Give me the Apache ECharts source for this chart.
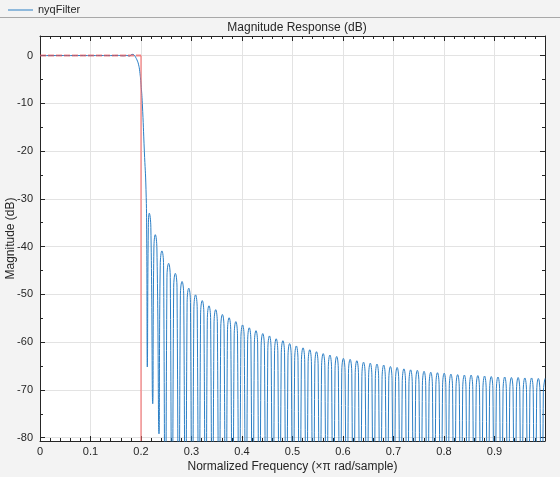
<!DOCTYPE html>
<html>
<head>
<meta charset="utf-8">
<script src="https://cdn.jsdelivr.net/npm/echarts@6/dist/echarts.min.js"></script>
<style>
html,body{margin:0;padding:0;background:#f3f3f3;}
#chart{width:560px;height:477px;}
</style>
</head>
<body>
<div id="chart"></div>
<script>
// ---- data ----
const seriesName = 'nyqFilter';
const xTickLabels = ['0','0.1','0.2','0.3','0.4','0.5','0.6','0.7','0.8','0.9'];
const yTickLabels = ['0','-10','-20','-30','-40','-50','-60','-70','-80'];

// passband + transition
const passFreq = [0, 0.02, 0.04, 0.06, 0.08, 0.10, 0.12, 0.14, 0.155, 0.165, 0.172, 0.177, 0.1825, 0.186, 0.189, 0.192, 0.195, 0.1975,
  0.2, 0.2026, 0.2066, 0.2099, 0.2113, 0.2125, 0.2145, 0.2164, 0.2195, 0.2232, 0.2255, 0.2283, 0.2315, 0.2356];
const passDb = [0, 0, 0.01, 0, 0.01, 0, 0.01, 0, 0.03, -0.05, 0.03, -0.1, 0.25, 0.15, -0.3, -0.9, -1.8, -3.3,
  -6.0, -10, -20, -28, -38, -65.2, -36, -33, -36, -72.9, -40.5, -37.5, -40.5, -79.2];

// stopband lobes
const lobePeakFreq = [
  0.2414, 0.2547, 0.2680, 0.2813, 0.2946, 0.3080, 0.3213, 0.3346, 0.3479, 0.3612,
  0.3745, 0.3878, 0.4011, 0.4144, 0.4277, 0.4411, 0.4544, 0.4677, 0.4810, 0.4943,
  0.5076, 0.5209, 0.5342, 0.5475, 0.5608, 0.5741, 0.5875, 0.6008, 0.6141, 0.6274,
  0.6407, 0.6540, 0.6673, 0.6806, 0.6939, 0.7072, 0.7206, 0.7339, 0.7472, 0.7605,
  0.7738, 0.7871, 0.8004, 0.8137, 0.8270, 0.8403, 0.8537, 0.8670, 0.8803, 0.8936,
  0.9069, 0.9202, 0.9335, 0.9468, 0.9601, 0.9734, 0.9868, 1.0000];
const lobePeakDb = [
  -40.9, -43.5, -45.6, -47.3, -48.7, -50.1, -51.3, -52.4, -53.2, -54.2,
  -54.9, -55.7, -56.4, -57.0, -57.6, -58.2, -58.7, -59.3, -59.7, -60.3,
  -60.8, -61.2, -61.6, -62.0, -62.4, -62.7, -63.0, -63.4, -63.6, -63.9,
  -64.2, -64.4, -64.6, -64.8, -65.1, -65.3, -65.6, -65.8, -65.9, -66.1,
  -66.3, -66.4, -66.5, -66.7, -66.8, -66.9, -66.9, -67.0, -67.1, -67.2,
  -67.3, -67.3, -67.4, -67.4, -67.5, -67.5, -67.6, -67.6];
const lobeLeftFreq = [
  0.2381, 0.2514, 0.2647, 0.2780, 0.2913, 0.3047, 0.3180, 0.3313, 0.3446, 0.3579,
  0.3712, 0.3845, 0.3978, 0.4111, 0.4244, 0.4378, 0.4511, 0.4644, 0.4777, 0.4910,
  0.5043, 0.5176, 0.5309, 0.5442, 0.5575, 0.5708, 0.5842, 0.5975, 0.6108, 0.6241,
  0.6374, 0.6507, 0.6640, 0.6773, 0.6906, 0.7039, 0.7173, 0.7306, 0.7439, 0.7572,
  0.7705, 0.7838, 0.7971, 0.8104, 0.8237, 0.8370, 0.8504, 0.8637, 0.8770, 0.8903,
  0.9036, 0.9169, 0.9302, 0.9435, 0.9568, 0.9701, 0.9835, 0.9967];
const lobeRightFreq = [
  0.2447, 0.2580, 0.2713, 0.2846, 0.2979, 0.3113, 0.3246, 0.3379, 0.3512, 0.3645,
  0.3778, 0.3911, 0.4044, 0.4177, 0.4310, 0.4444, 0.4577, 0.4710, 0.4843, 0.4976,
  0.5109, 0.5242, 0.5375, 0.5508, 0.5641, 0.5774, 0.5908, 0.6041, 0.6174, 0.6307,
  0.6440, 0.6573, 0.6706, 0.6839, 0.6972, 0.7105, 0.7239, 0.7372, 0.7505, 0.7638,
  0.7771, 0.7904, 0.8037, 0.8170, 0.8303, 0.8436, 0.8570, 0.8703, 0.8836, 0.8969,
  0.9102, 0.9235, 0.9368, 0.9501, 0.9634, 0.9767, 0.9901];
const lobeShoulderDb = [
  -43.9, -46.5, -48.6, -50.3, -51.7, -53.1, -54.3, -55.4, -56.2, -57.2,
  -57.9, -58.7, -59.4, -60.0, -60.6, -61.2, -61.7, -62.3, -62.7, -63.3,
  -63.8, -64.2, -64.6, -65.0, -65.4, -65.7, -66.0, -66.4, -66.6, -66.9,
  -67.2, -67.4, -67.6, -67.8, -68.1, -68.3, -68.6, -68.8, -68.9, -69.1,
  -69.3, -69.4, -69.5, -69.7, -69.8, -69.9, -69.9, -70.0, -70.1, -70.2,
  -70.3, -70.3, -70.4, -70.4, -70.5, -70.5, -70.6, -70.6];
const nullFreq = [
  0.2481, 0.2614, 0.2747, 0.2880, 0.3013, 0.3147, 0.3280, 0.3413, 0.3546, 0.3679,
  0.3812, 0.3945, 0.4078, 0.4211, 0.4344, 0.4478, 0.4611, 0.4744, 0.4877, 0.5010,
  0.5143, 0.5276, 0.5409, 0.5542, 0.5675, 0.5808, 0.5942, 0.6075, 0.6208, 0.6341,
  0.6474, 0.6607, 0.6740, 0.6873, 0.7006, 0.7139, 0.7273, 0.7406, 0.7539, 0.7672,
  0.7805, 0.7938, 0.8071, 0.8204, 0.8337, 0.8470, 0.8604, 0.8737, 0.8870, 0.9003,
  0.9136, 0.9269, 0.9402, 0.9535, 0.9668, 0.9801, 0.9935];
const nullDb = -140;

// mask (red): passband edge at 0 dB up to 0.2, then vertical at 0.2
const maskHorizFreq = [0, 0.2];
const maskHorizDb = [0, 0];
const maskVertFreq = [0.2, 0.2];
const maskVertDb = [0, -80.7];

// ---- build series data ----
const resp = [];
for (let i = 0; i < passFreq.length; i++) resp.push([passFreq[i], passDb[i]]);
for (let k = 0; k < lobePeakFreq.length; k++) {
  resp.push([lobeLeftFreq[k], lobeShoulderDb[k]]);
  resp.push([lobePeakFreq[k], lobePeakDb[k]]);
  if (k < lobeRightFreq.length) resp.push([lobeRightFreq[k], lobeShoulderDb[k]]);
  if (k < nullFreq.length) resp.push([nullFreq[k], nullDb]);
}
const maskH = maskHorizFreq.map((f, i) => [f, maskHorizDb[i]]);
const maskV = maskVertFreq.map((f, i) => [f, maskVertDb[i]]);

const FONT = 'Liberation Sans, Arial, sans-serif';
const TXT = '#262626';
const BLUE = '#2b7fc5';
const chart = echarts.init(document.getElementById('chart'), null, {renderer: 'canvas'});

function xAx(pos, showLabels) {
  return {
    type: 'value', position: pos, min: 0, max: 1, interval: 0.1,
    axisLine: {show: true, onZero: false, lineStyle: {color: TXT, width: 1}},
    axisTick: {show: true, inside: true, length: 5, lineStyle: {color: TXT}},
    minorTick: {show: true, splitNumber: 5, length: 3, lineStyle: {color: TXT}},
    axisLabel: {show: showLabels, color: TXT, fontFamily: FONT, fontSize: 11, margin: 5, showMaxLabel: false,
      formatter: v => { const i = Math.round(v * 10); return i < xTickLabels.length ? xTickLabels[i] : ''; }},
    splitLine: {show: showLabels, lineStyle: {color: '#e3e3e3', width: 1}},
    name: showLabels ? 'Normalized Frequency (×π rad/sample)' : '',
    nameLocation: 'middle', nameGap: 20, nameMoveOverlap: false,
    nameTextStyle: {color: TXT, fontFamily: FONT, fontSize: 12}
  };
}
function yAx(pos, showLabels) {
  return {
    type: 'value', position: pos, min: -80.7, max: 4.1, splitNumber: 8,
    axisLine: {show: true, onZero: false, lineStyle: {color: TXT, width: 1}},
    axisTick: {show: true, inside: true, length: 5, lineStyle: {color: TXT}},
    minorTick: {show: true, splitNumber: 2, length: 3, lineStyle: {color: TXT}},
    axisLabel: {show: showLabels, color: TXT, fontFamily: FONT, fontSize: 11, margin: 7,
      showMinLabel: false, showMaxLabel: false,
      formatter: v => { const i = Math.round(-v / 10); return (Math.abs(v + i * 10) < 1e-6 && i >= 0 && i < yTickLabels.length) ? yTickLabels[i] : ''; }},
    splitLine: {show: showLabels, lineStyle: {color: '#e3e3e3', width: 1}},
    name: showLabels ? 'Magnitude (dB)' : '',
    nameLocation: 'middle', nameGap: 23, nameMoveOverlap: false,
    nameTextStyle: {color: TXT, fontFamily: FONT, fontSize: 12}
  };
}

chart.setOption({
  animation: false,
  backgroundColor: '#f3f3f3',
  title: {text: 'Magnitude Response (dB)', left: 292, top: 17, textAlign: 'center',
    textStyle: {color: TXT, fontFamily: FONT, fontSize: 12, fontWeight: 'normal'}},
  legend: {data: [{name: seriesName, icon: 'rect', itemStyle: {color: BLUE}}], left: 3, top: -0.5,
    itemWidth: 25, itemHeight: 1, itemGap: 4,
    textStyle: {color: TXT, fontFamily: FONT, fontSize: 11}},
  graphic: [{type: 'line', shape: {x1: 0, y1: 17.5, x2: 560, y2: 17.5}, style: {stroke: '#a8a8a8', lineWidth: 1}, silent: true}],
  grid: {show: true, backgroundColor: '#ffffff', borderWidth: 0,
    left: 40, right: 15, top: 36, bottom: 36, containLabel: false, outerBoundsMode: 'none'},
  xAxis: [xAx('bottom', true), xAx('top', false)],
  yAxis: [yAx('left', true), yAx('right', false)],
  series: [
    {name: seriesName, type: 'line', data: resp, symbol: 'none', smooth: 0.5, clip: true,
      lineStyle: {color: BLUE, width: 1}, itemStyle: {color: BLUE}, z: 3},
    {name: 'maskH', type: 'line', data: maskH, symbol: 'none', clip: true,
      lineStyle: {color: 'rgba(238,70,70,0.6)', width: 2, type: [6, 2]}, z: 4},
    {name: 'maskV', type: 'line', data: maskV, symbol: 'none', clip: true,
      lineStyle: {color: 'rgba(245,110,110,0.55)', width: 2}, z: 4}
  ]
});
</script>
</body>
</html>
